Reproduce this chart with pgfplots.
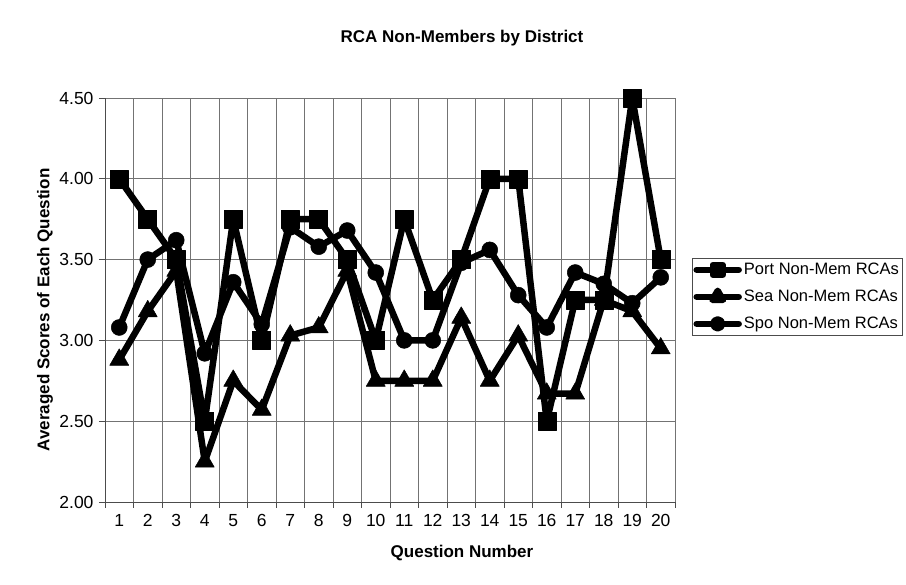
\documentclass[border=0pt]{standalone}
\usepackage{fontspec}
\setmainfont{Liberation Sans}
\usepackage{pgfplots}
\pgfplotsset{compat=1.18}
\begin{document}
\begin{tikzpicture}[x=1pt,y=1pt]
\useasboundingbox (-105,-83) rectangle (801,502);
\begin{axis}[
  at={(0,0)}, anchor=south west,
  scale only axis, width=570pt, height=404pt,
  xmin=0.5, xmax=20.5, ymin=2, ymax=4.5,
  axis x line*=bottom, axis y line*=left,
  axis line style={black!70, line width=0.8pt},
  xtick={1,...,20},
  minor xtick={0.5,1.5,...,20.5},
  xminorgrids=true, ymajorgrids=true,
  major x tick style={draw=none},
  minor tick length=6pt,
  minor x tick style={black!70, line width=0.8pt},
  ytick={2,2.5,...,4.5},
  major y tick style={black!70, line width=0.8pt},
  major tick length=6pt,
  tick align=outside,
  grid style={black!55, line width=0.7pt},
  minor grid style={black!55, line width=0.7pt},
  yticklabel style={/pgf/number format/fixed, /pgf/number format/fixed zerofill, /pgf/number format/precision=2, xshift=-2pt},
  /pgf/number format/assume math mode=true,
  ticklabel style={font=\fontsize{17.5}{20}\selectfont},
  xticklabel style={yshift=-3pt},
  clip=false,
  legend style={at={(rel axis cs:1.03,0.604)}, anchor=north west,
    draw=black!70, line width=0.7pt, font=\fontsize{16.5}{19}\selectfont,
    row sep=10pt, inner xsep=1pt, inner ysep=3pt, fill=white,
    nodes={inner xsep=2pt}},
  legend cell align=left,
  legend image code/.code={
    \draw[#1] (0pt,0pt) -- (42pt,0pt);
    \draw[#1, only marks, mark options={scale=0.55}] plot coordinates {(21pt,0pt)};
  },
  every axis plot/.append style={line join=round, line cap=round},
]
\addplot[black, line width=6.5pt, mark=square*, mark size=9pt, mark options={solid, line width=0.5pt}] coordinates {
(1,4.00) (2,3.75) (3,3.50) (4,2.50) (5,3.75) (6,3.00) (7,3.75) (8,3.75) (9,3.50) (10,3.00)
(11,3.75) (12,3.25) (13,3.50) (14,4.00) (15,4.00) (16,2.50) (17,3.25) (18,3.25) (19,4.50) (20,3.50)};
\addlegendentry{Port Non-Mem RCAs}
\addplot[black, line width=6.5pt, mark=triangle*, mark size=11pt, mark options={solid, line width=0.5pt}] coordinates {
(1,2.88) (2,3.18) (3,3.43) (4,2.25) (5,2.75) (6,2.57) (7,3.03) (8,3.08) (9,3.43) (10,2.75)
(11,2.75) (12,2.75) (13,3.14) (14,2.75) (15,3.03) (16,2.67) (17,2.67) (18,3.25) (19,3.18) (20,2.95)};
\addlegendentry{Sea Non-Mem RCAs}
\addplot[black, line width=6.5pt, mark=*, mark size=8pt, mark options={solid, line width=0.5pt}] coordinates {
(1,3.08) (2,3.50) (3,3.62) (4,2.92) (5,3.36) (6,3.10) (7,3.70) (8,3.58) (9,3.68) (10,3.42)
(11,3.00) (12,3.00) (13,3.48) (14,3.56) (15,3.28) (16,3.08) (17,3.42) (18,3.35) (19,3.23) (20,3.39)};
\addlegendentry{Spo Non-Mem RCAs}
\end{axis}
\node[font=\fontsize{17}{20}\selectfont\bfseries] at (357,464) {RCA Non-Members by District};
\node[font=\fontsize{17}{20}\selectfont\bfseries] at (357,-51) {Question Number};
\node[font=\fontsize{17}{20}\selectfont\bfseries, rotate=90] at (-60,192) {Averaged Scores of Each Question};
\end{tikzpicture}
\end{document}
